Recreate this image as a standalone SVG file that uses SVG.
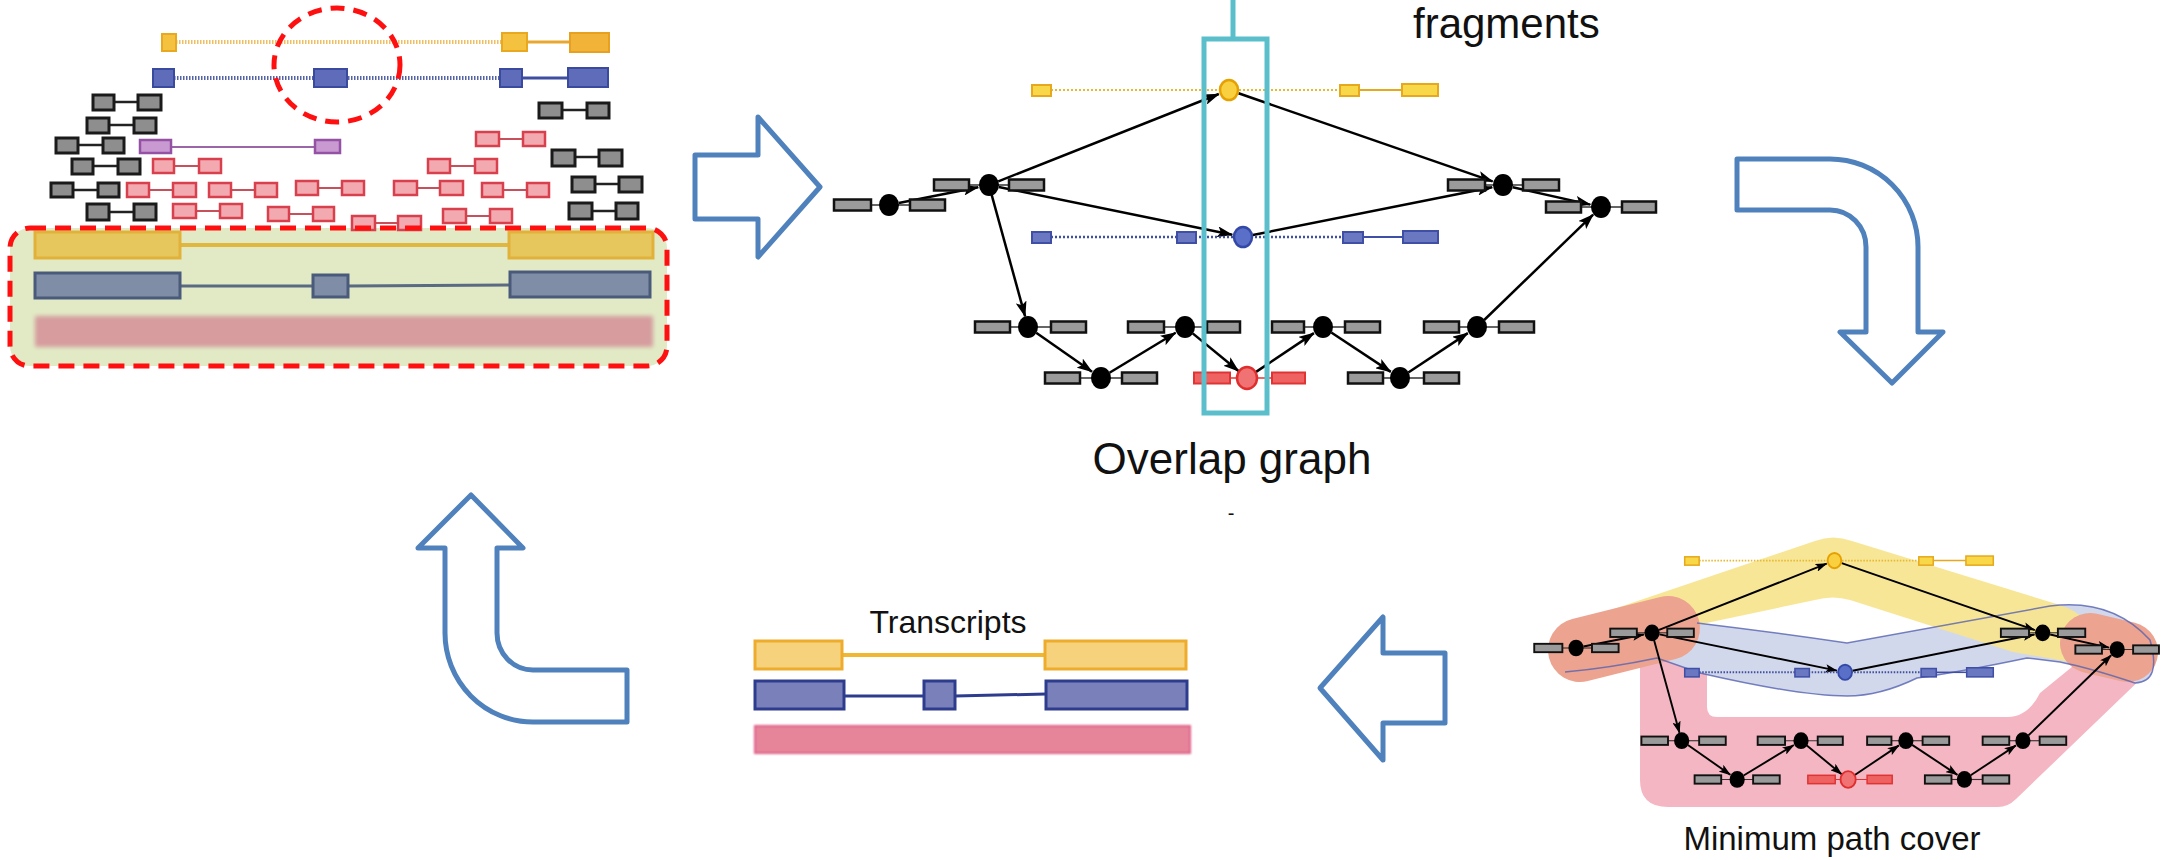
<svg xmlns="http://www.w3.org/2000/svg" xmlns:xlink="http://www.w3.org/1999/xlink" width="2161" height="860" viewBox="0 0 2161 860">
<defs>
<style>
.txt{font-family:"Liberation Sans",Arial,sans-serif;fill:#111}
.bk rect{fill:#8e8e8e;stroke:#1a1a1a;stroke-width:3}
.bk line{stroke:#222;stroke-width:2.5}
.rd rect{fill:#F2A9B0;stroke:#D8404E;stroke-width:2.5}
.rd line{stroke:#C8505A;stroke-width:2}
.pu rect{fill:#C99AD2;stroke:#9552A5;stroke-width:2.5}
.pu line{stroke:#9A66A8;stroke-width:2}
.bigarrow{fill:#fff;stroke:#4F81BD;stroke-width:5;stroke-linejoin:round}
.gb{fill:#9a9a9a;stroke:#111;stroke-width:2.5}
.ln{stroke:#333;stroke-width:1.5}
.edge{stroke:#000;stroke-width:2.5;fill:none;marker-end:url(#ah)}
.yb{fill:#F8D848;stroke:#E6A91E;stroke-width:2}
.bb{fill:#6A78C2;stroke:#3F4FA6;stroke-width:2}
.rb{fill:#EE6262;stroke:#E03434;stroke-width:2}
</style>
<marker id="ah" markerUnits="userSpaceOnUse" markerWidth="16" markerHeight="11" refX="15" refY="5.5" orient="auto">
<path d="M0,0 L16,5.5 L0,11 L3.5,5.5 Z" fill="#000"/>
</marker>
<filter id="blur1" x="-5%" y="-20%" width="110%" height="140%"><feGaussianBlur stdDeviation="1"/></filter>
<filter id="blur2" x="-5%" y="-30%" width="110%" height="160%"><feGaussianBlur stdDeviation="2.2"/></filter>
</defs>
<rect width="2161" height="860" fill="#fff"/>

<!-- ============ LEFT PANEL: reads ============ -->
<g id="reads-panel">
<rect x="10" y="228" width="657" height="138" rx="20" fill="#E1EAC5"/>
<g id="inbox-transcripts">
<line x1="180" y1="245" x2="509" y2="245" stroke="#E0B840" stroke-width="4"/>
<rect x="35" y="232" width="145" height="26" fill="#E6C75E" stroke="#E1B13A" stroke-width="3"/>
<rect x="509" y="232" width="144" height="26" fill="#E6C75E" stroke="#E1B13A" stroke-width="3"/>
<line x1="180" y1="286" x2="313" y2="286" stroke="#5A6A82" stroke-width="3"/>
<line x1="348" y1="286" x2="510" y2="285" stroke="#5A6A82" stroke-width="3"/>
<rect x="35" y="273" width="145" height="25" fill="#7F8EA6" stroke="#4A5A7A" stroke-width="3"/>
<rect x="313" y="275" width="35" height="22" fill="#7F8EA6" stroke="#4A5A7A" stroke-width="3"/>
<rect x="510" y="272" width="140" height="25" fill="#7F8EA6" stroke="#4A5A7A" stroke-width="3"/>
<rect x="35" y="316" width="618" height="31" fill="#D69C9E" filter="url(#blur2)"/>
</g>
<g id="read-yellow">
<line x1="176" y1="42" x2="502" y2="42" stroke="#EDBE62" stroke-width="4" stroke-dasharray="1.5 1.5"/>
<line x1="527" y1="42" x2="570" y2="42" stroke="#E8A830" stroke-width="3"/>
<rect x="162" y="34" width="14" height="17" fill="#F4C23E" stroke="#E8A820" stroke-width="2"/>
<rect x="502" y="33" width="25" height="18" fill="#F4C23E" stroke="#E8A820" stroke-width="2"/>
<rect x="570" y="33" width="39" height="19" fill="#F2B438" stroke="#E8A020" stroke-width="2"/>
</g>
<g id="read-blue">
<line x1="174" y1="78" x2="500" y2="78" stroke="#5462A6" stroke-width="4" stroke-dasharray="1.5 1.5"/>
<line x1="522" y1="78" x2="568" y2="78" stroke="#3E4EA0" stroke-width="3"/>
<rect x="153" y="69" width="21" height="18" fill="#5E6CBA" stroke="#3A4A9E" stroke-width="2"/>
<rect x="314" y="69" width="33" height="18" fill="#5E6CBA" stroke="#3A4A9E" stroke-width="2"/>
<rect x="500" y="69" width="22" height="18" fill="#5E6CBA" stroke="#3A4A9E" stroke-width="2"/>
<rect x="568" y="68" width="40" height="19" fill="#5E6CBA" stroke="#3A4A9E" stroke-width="2"/>
</g>
<g id="read-purple" class="pu">
<line x1="171" y1="147" x2="315" y2="147"/>
<rect x="140" y="140" width="31" height="13"/>
<rect x="315" y="140" width="25" height="13"/>
</g>
<g id="reads-black" class="bk">
<g id="b1"><line x1="114" y1="102" x2="138" y2="102"/><rect x="93" y="95" width="21" height="15"/><rect x="138" y="95" width="23" height="15"/></g>
<g id="b2"><line x1="109" y1="125" x2="134" y2="125"/><rect x="87" y="118" width="22" height="15"/><rect x="134" y="118" width="22" height="15"/></g>
<g id="b3"><line x1="78" y1="145" x2="103" y2="145"/><rect x="56" y="138" width="22" height="15"/><rect x="103" y="138" width="21" height="15"/></g>
<g id="b4"><line x1="93" y1="166" x2="118" y2="166"/><rect x="72" y="159" width="21" height="15"/><rect x="118" y="159" width="22" height="15"/></g>
<g id="b5"><line x1="73" y1="190" x2="98" y2="190"/><rect x="51" y="183" width="22" height="14"/><rect x="98" y="183" width="21" height="14"/></g>
<g id="b6"><line x1="109" y1="212" x2="134" y2="212"/><rect x="87" y="204" width="22" height="16"/><rect x="134" y="204" width="22" height="16"/></g>
<g id="b7"><line x1="562" y1="110" x2="587" y2="110"/><rect x="539" y="103" width="23" height="15"/><rect x="587" y="103" width="22" height="15"/></g>
<g id="b8"><line x1="575" y1="157" x2="599" y2="157"/><rect x="552" y="150" width="23" height="16"/><rect x="599" y="150" width="23" height="16"/></g>
<g id="b9"><line x1="595" y1="184" x2="619" y2="184"/><rect x="572" y="177" width="23" height="15"/><rect x="619" y="177" width="23" height="15"/></g>
<g id="b10"><line x1="592" y1="211" x2="616" y2="211"/><rect x="569" y="203" width="23" height="16"/><rect x="616" y="203" width="22" height="16"/></g>
</g>
<g id="reads-red" class="rd">
<g id="r1"><line x1="499" y1="139" x2="523" y2="139"/><rect x="476" y="132" width="23" height="14"/><rect x="523" y="132" width="22" height="14"/></g>
<g id="r2"><line x1="174" y1="166" x2="199" y2="166"/><rect x="153" y="159" width="21" height="14"/><rect x="199" y="159" width="22" height="14"/></g>
<g id="r3"><line x1="450" y1="166" x2="475" y2="166"/><rect x="428" y="159" width="22" height="14"/><rect x="475" y="159" width="22" height="14"/></g>
<g id="r4"><line x1="149" y1="190" x2="173" y2="190"/><rect x="127" y="183" width="22" height="14"/><rect x="173" y="183" width="23" height="14"/></g>
<g id="r5"><line x1="231" y1="190" x2="255" y2="190"/><rect x="209" y="183" width="22" height="14"/><rect x="255" y="183" width="22" height="14"/></g>
<g id="r6"><line x1="318" y1="188" x2="342" y2="188"/><rect x="296" y="181" width="22" height="14"/><rect x="342" y="181" width="22" height="14"/></g>
<g id="r7"><line x1="417" y1="188" x2="440" y2="188"/><rect x="394" y="181" width="23" height="14"/><rect x="440" y="181" width="23" height="14"/></g>
<g id="r8"><line x1="503" y1="190" x2="527" y2="190"/><rect x="482" y="183" width="21" height="14"/><rect x="527" y="183" width="22" height="14"/></g>
<g id="r9"><line x1="196" y1="211" x2="220" y2="211"/><rect x="173" y="204" width="23" height="14"/><rect x="220" y="204" width="22" height="14"/></g>
<g id="r10"><line x1="289" y1="214" x2="313" y2="214"/><rect x="268" y="207" width="21" height="14"/><rect x="313" y="207" width="21" height="14"/></g>
<g id="r11"><line x1="375" y1="223" x2="398" y2="223"/><rect x="352" y="216" width="23" height="14"/><rect x="398" y="216" width="23" height="14"/></g>
<g id="r12"><line x1="466" y1="216" x2="490" y2="216"/><rect x="443" y="209" width="23" height="14"/><rect x="490" y="209" width="22" height="14"/></g>
</g>
<rect id="consensus-frame" x="10" y="228" width="657" height="138" rx="20" fill="none" stroke="#FF1010" stroke-width="5" stroke-dasharray="16 9"/>
<ellipse id="exon-circle" cx="337" cy="65" rx="63" ry="57" fill="none" stroke="#FF1010" stroke-width="5" stroke-dasharray="14 9"/>
</g>

<!-- ============ BIG FLOW ARROWS ============ -->
<g id="flow-arrows">
<path id="arrow-right" class="bigarrow" d="M695,155 L758,155 L758,117 L820,187 L758,257 L758,219 L695,219 Z"/>
<path id="arrow-down" class="bigarrow" d="M1737,159 L1830,159 A88,88 0 0 1 1918,247 L1918,332 L1943,332 L1892,383 L1840,332 L1866,332 L1866,247 A36,37 0 0 0 1830,210 L1737,210 Z"/>
<path id="arrow-left" class="bigarrow" d="M1320,688 L1383,617 L1383,653 L1445,653 L1445,723 L1383,723 L1383,760 Z"/>
<path id="arrow-up" class="bigarrow" d="M471,495 L523,548 L497,548 L497,633 A36,37 0 0 0 533,670 L627,670 L627,722 L533,722 A88,89 0 0 1 445,633 L445,548 L418,548 Z"/>
</g>

<!-- ============ OVERLAP GRAPH ============ -->
<g id="overlap-graph">
<g id="connectors">
<line class="edge" x1="898.8" y1="203" x2="978.2" y2="187.2"/>
<line class="edge" x1="998.3" y1="181.3" x2="1218.8" y2="94"/>
<line class="edge" x1="998.8" y1="187" x2="1232.2" y2="234.8"/>
<line class="edge" x1="991.6" y1="194.6" x2="1025.1" y2="316.4"/>
<line class="edge" x1="1238.5" y1="93.3" x2="1492.6" y2="181.4"/>
<line class="edge" x1="1252.8" y1="235" x2="1492.2" y2="187.2"/>
<line class="edge" x1="1512.8" y1="187.2" x2="1590.3" y2="204.6"/>
<line class="edge" x1="1036.2" y1="332.7" x2="1092" y2="371.7"/>
<line class="edge" x1="1109.5" y1="372.8" x2="1175.6" y2="332.7"/>
<line class="edge" x1="1192.7" y1="333.4" x2="1238.5" y2="371"/>
<line class="edge" x1="1255.3" y1="372.4" x2="1313.9" y2="333.1"/>
<line class="edge" x1="1331.3" y1="332.5" x2="1390.8" y2="371.9"/>
<line class="edge" x1="1408.3" y1="372.5" x2="1467.8" y2="333.1"/>
<line class="edge" x1="1484.2" y1="320" x2="1593.1" y2="214.6"/>
</g>
<g id="g-yellow">
<line x1="1051" y1="90" x2="1340" y2="90" stroke="#E8B830" stroke-width="2.2" stroke-dasharray="2 2"/>
<line x1="1359" y1="90" x2="1402" y2="90" stroke="#E6A91E" stroke-width="2"/>
<rect class="yb" x="1032" y="85" width="19" height="11"/>
<rect class="yb" x="1340" y="85" width="19" height="11"/>
<rect class="yb" x="1402" y="84" width="36" height="12"/>
<ellipse cx="1229" cy="90" rx="9" ry="10" fill="#F8D040" stroke="#E6A000" stroke-width="2.5"/>
</g>
<g id="g-blue">
<line x1="1051" y1="237" x2="1343" y2="237" stroke="#4050A0" stroke-width="2.5" stroke-dasharray="2 2"/>
<line x1="1363" y1="237" x2="1403" y2="237" stroke="#3F4FA6" stroke-width="2"/>
<rect class="bb" x="1032" y="232" width="19" height="11"/>
<rect class="bb" x="1177" y="232" width="19" height="11"/>
<rect class="bb" x="1343" y="232" width="20" height="11"/>
<rect class="bb" x="1403" y="231" width="35" height="12"/>
<ellipse cx="1243" cy="237" rx="9" ry="10" fill="#5A70C8" stroke="#3448A8" stroke-width="2.5"/>
</g>
<g id="n1"><line class="ln" x1="871" y1="205" x2="910" y2="205"/><rect class="gb" x="834" y="199.5" width="37" height="11"/><rect class="gb" x="910" y="199.5" width="35" height="11"/><ellipse cx="889" cy="205" rx="10" ry="11"/></g>
<g id="n2"><line class="ln" x1="969" y1="185" x2="1009" y2="185"/><rect class="gb" x="934" y="179.5" width="35" height="11"/><rect class="gb" x="1009" y="179.5" width="35" height="11"/><ellipse cx="989" cy="185" rx="10" ry="11"/></g>
<g id="n5"><line class="ln" x1="1485" y1="185" x2="1523" y2="185"/><rect class="gb" x="1448" y="179.5" width="37" height="11"/><rect class="gb" x="1523" y="179.5" width="36" height="11"/><ellipse cx="1503" cy="185" rx="10" ry="11"/></g>
<g id="n6"><line class="ln" x1="1581" y1="207" x2="1622" y2="207"/><rect class="gb" x="1546" y="201.5" width="35" height="11"/><rect class="gb" x="1622" y="201.5" width="34" height="11"/><ellipse cx="1601" cy="207" rx="10" ry="11"/></g>
<g id="n7"><line class="ln" x1="1010" y1="327" x2="1051" y2="327"/><rect class="gb" x="975" y="321.5" width="35" height="11"/><rect class="gb" x="1051" y="321.5" width="35" height="11"/><ellipse cx="1028" cy="327" rx="10" ry="11"/></g>
<g id="n8"><line class="ln" x1="1080" y1="378" x2="1122" y2="378"/><rect class="gb" x="1045" y="372.5" width="35" height="11"/><rect class="gb" x="1122" y="372.5" width="35" height="11"/><ellipse cx="1101" cy="378" rx="10" ry="11"/></g>
<g id="n9"><line class="ln" x1="1164" y1="327" x2="1207" y2="327"/><rect class="gb" x="1128" y="321.5" width="36" height="11"/><rect class="gb" x="1207" y="321.5" width="33" height="11"/><ellipse cx="1185" cy="327" rx="10" ry="11"/></g>
<g id="n10"><line x1="1230" y1="378" x2="1272" y2="378" stroke="#E03434" stroke-width="1.5"/><rect class="rb" x="1194" y="372.5" width="36" height="11"/><rect class="rb" x="1272" y="372.5" width="33" height="11"/><ellipse cx="1247" cy="378" rx="10" ry="11" fill="#F07272" stroke="#E02E2E" stroke-width="2.5"/></g>
<g id="n11"><line class="ln" x1="1304" y1="327" x2="1345" y2="327"/><rect class="gb" x="1272" y="321.5" width="32" height="11"/><rect class="gb" x="1345" y="321.5" width="35" height="11"/><ellipse cx="1323" cy="327" rx="10" ry="11"/></g>
<g id="n12"><line class="ln" x1="1383" y1="378" x2="1424" y2="378"/><rect class="gb" x="1348" y="372.5" width="35" height="11"/><rect class="gb" x="1424" y="372.5" width="35" height="11"/><ellipse cx="1400" cy="378" rx="10" ry="11"/></g>
<g id="n13"><line class="ln" x1="1459" y1="327" x2="1499" y2="327"/><rect class="gb" x="1424" y="321.5" width="35" height="11"/><rect class="gb" x="1499" y="321.5" width="35" height="11"/><ellipse cx="1477" cy="327" rx="10" ry="11"/></g>
</g>
<g id="fragment-window">
<line x1="1233" y1="0" x2="1233" y2="39" stroke="#5BBFCB" stroke-width="5"/>
<rect x="1204" y="39" width="63" height="374" fill="none" stroke="#5BBFCB" stroke-width="5"/>
</g>
<text class="txt" x="1413" y="38" font-size="42">fragments</text>
<text class="txt" x="1232" y="474" font-size="44" text-anchor="middle">Overlap graph</text>
<text class="txt" x="1231" y="520" font-size="20" text-anchor="middle">-</text>

<!-- ============ MINIMUM PATH COVER ============ -->
<g id="path-cover">
<path id="band-red" d="M1640,660 L1640,780 Q1640,807 1668,807 L1998,807 Q2008,807 2016,799 L2148,672 Q2162,656 2150,638 L2125,628 L2105,640 L2040,693 Q2028,717 2008,717 L1717,717 Q1707,717 1707,707 L1707,650 L1680,640 Z" fill="#F4B6C3"/>
<path id="band-blue" d="M1575,628 L1697,623 Q1772,632 1847,643 Q1950,624 2050,606 Q2112,598 2150,640 Q2162,682 2135,683 Q2090,668 2060,662 L2027,658 Q1960,672 1917,678 Q1880,696 1847,696 Q1800,696 1700,673 L1657,658 L1575,670 Z" fill="#D2D8EC"/>
<path id="band-yellow" d="M1605,612 L1815,541 Q1833,534 1852,541 L2060,605 Q2090,615 2095,640 L2070,662 L2013,652 L1850,600 Q1833,595 1815,600 L1697,625 L1650,645 Z" fill="#F7E48E" opacity="0.92"/>
<path d="M1580,650 L1668,628" stroke="#ECA390" stroke-width="64" stroke-linecap="round" fill="none"/>
<path d="M2090,643 L2128,652" stroke="#ECA390" stroke-width="60" stroke-linecap="round" fill="none"/>
<path d="M1697,623 Q1772,632 1847,643 Q1950,624 2050,606 Q2112,598 2150,640 Q2162,682 2135,683 Q2090,668 2060,662 L2027,658 Q1960,672 1917,678 Q1880,696 1847,696 Q1800,696 1700,673 L1657,658 Q1610,668 1565,672" fill="none" stroke="#5561B0" stroke-width="1.5" opacity="0.8"/>
<use xlink:href="#overlap-graph" href="#overlap-graph" transform="translate(900.4,492.2) scale(0.76)"/>
</g>
<text class="txt" x="1832" y="850" font-size="33" text-anchor="middle">Minimum path cover</text>

<!-- ============ TRANSCRIPTS ============ -->
<g id="transcripts">
<line x1="842" y1="655" x2="1045" y2="655" stroke="#F0B830" stroke-width="4"/>
<rect x="755" y="641" width="87" height="28" fill="#F7D27C" stroke="#EEAC2C" stroke-width="3"/>
<rect x="1045" y="641" width="141" height="28" fill="#F7D27C" stroke="#EEAC2C" stroke-width="3"/>
<line x1="844" y1="696" x2="924" y2="696" stroke="#2E3C8E" stroke-width="3"/>
<line x1="955" y1="696" x2="1046" y2="694" stroke="#2E3C8E" stroke-width="3"/>
<rect x="755" y="681" width="89" height="28" fill="#7A80BA" stroke="#2E3C8E" stroke-width="3"/>
<rect x="924" y="681" width="31" height="28" fill="#7A80BA" stroke="#2E3C8E" stroke-width="3"/>
<rect x="1046" y="681" width="141" height="28" fill="#7A80BA" stroke="#2E3C8E" stroke-width="3"/>
<rect x="755" y="726" width="435" height="27" fill="#E6849A" stroke="#E0608A" stroke-width="2" filter="url(#blur1)"/>
</g>
<text class="txt" x="948" y="633" font-size="32" text-anchor="middle">Transcripts</text>
</svg>
